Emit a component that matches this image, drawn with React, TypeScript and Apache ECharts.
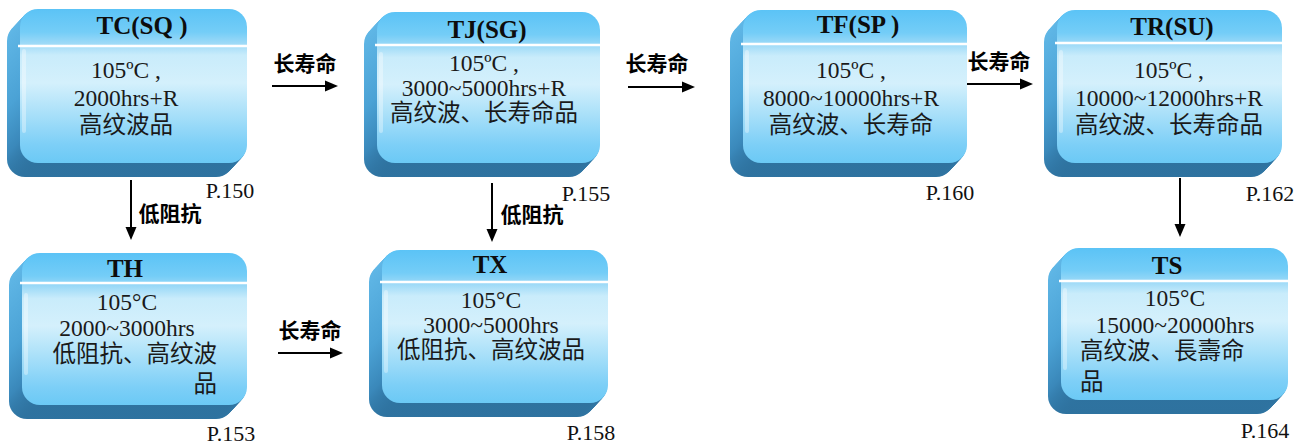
import React, { useEffect, useRef } from "react";
import * as echarts from "echarts";

// ---- content ----
const titles = ["TC(SQ )", "TJ(SG)", "TF(SP )", "TR(SU)", "TH", "TX", "TS"];
const specLines = [
  ["105ºC ,", "2000hrs+R", "高纹波品"],
  ["105ºC ,", "3000~5000hrs+R", "高纹波、长寿命品"],
  ["105ºC ,", "8000~10000hrs+R", "高纹波、长寿命"],
  ["105ºC ,", "10000~12000hrs+R", "高纹波、长寿命品"],
  ["105°C", "2000~3000hrs", "低阻抗、高纹波", "品"],
  ["105°C", "3000~5000hrs", "低阻抗、高纹波品"],
  ["105°C", "15000~20000hrs", "高纹波、長壽命", "品"],
];
const pages = ["P.150", "P.155", "P.160", "P.162", "P.153", "P.158", "P.164"];
const arrowLabels = ["长寿命", "长寿命", "长寿命", "长寿命", "低阻抗", "低阻抗", ""];

// ---- layout (positions / sizes only) ----
const boxLayout = [
  { x: 20, y: 9, w: 227, h: 154, tx: 142, ty: 25, ly: 46, cx: 126, cy: 70, lh: 27.5 },
  { x: 377, y: 12, w: 223, h: 151, tx: 487, ty: 29, ly: 45, cx: 484, cy: 63, lh: 25 },
  { x: 743, y: 10, w: 224, h: 153, tx: 858, ty: 24, ly: 44, cx: 851, cy: 70, lh: 27.5 },
  { x: 1057, y: 10, w: 225, h: 153, tx: 1172, ty: 26, ly: 43, cx: 1169, cy: 70, lh: 27.5 },
  { x: 22, y: 253, w: 225, h: 152, tx: 125, ty: 268, ly: 283, cx: 127, cy: 302, lh: 26, tailFrom: 2, tailAlign: "right", tailX: 217 },
  { x: 382, y: 250, w: 226, h: 153, tx: 490, ty: 264, ly: 282, cx: 491, cy: 300, lh: 25 },
  { x: 1061, y: 248, w: 227, h: 152, tx: 1167, ty: 265, ly: 281, cx: 1175, cy: 298, lh: 26.5, tailFrom: 2, tailAlign: "left", tailX: 1080 },
];
const pageLayout = [
  [230, 190], [586, 193], [950, 192], [1270, 193], [231, 433], [591, 432], [1265, 430],
];
const arrowLayout = [
  { dir: "h", x1: 272, y1: 86, x2: 338, y2: 86, lx: 305, ly: 62 },
  { dir: "h", x1: 628, y1: 87, x2: 695, y2: 87, lx: 657, ly: 62 },
  { dir: "h", x1: 967, y1: 84, x2: 1033, y2: 84, lx: 999, ly: 60 },
  { dir: "h", x1: 278, y1: 353, x2: 343, y2: 353, lx: 310, ly: 329 },
  { dir: "v", x1: 131, y1: 180, x2: 131, y2: 240, lx: 170, ly: 212 },
  { dir: "v", x1: 492, y1: 183, x2: 492, y2: 242, lx: 532, ly: 213 },
  { dir: "v", x1: 1180, y1: 178, x2: 1180, y2: 237, lx: 0, ly: 0 },
];

const SERIF = '"Liberation Serif", "Times New Roman", "Noto Sans CJK SC", serif';
const CJK = '"Noto Sans CJK SC", sans-serif';

function lin(stops: [number, string][]) {
  return {
    type: "linear",
    x: 0,
    y: 0,
    x2: 0,
    y2: 1,
    colorStops: stops.map(([offset, color]) => ({ offset, color })),
  };
}

function buildElements() {
  const els: any[] = [];
  const DX = -13;
  const DY = 14;
  const STEPS = 16;
  boxLayout.forEach((b, i) => {
    // extrusion
    for (let s = STEPS; s >= 1; s--) {
      const t = s / STEPS;
      els.push({
        type: "rect",
        shape: { x: b.x + DX * t, y: b.y + DY * t, width: b.w, height: b.h, r: 18 },
        style: {
          fill: lin([
            [0, "#62b9e8"],
            [0.55, "#4ba2d5"],
            [0.85, "#3a88ba"],
            [1, "#2e729f"],
          ]),
        },
        silent: true,
      });
    }
    // front face
    els.push({
      type: "rect",
      shape: { x: b.x, y: b.y, width: b.w, height: b.h, r: 18 },
      style: {
        fill: lin([
          [0, "#5bc3f6"],
          [0.15, "#74cdf7"],
          [0.22, "#9bd9f7"],
          [0.3, "#c9ecfb"],
          [0.48, "#d4f0fc"],
          [0.68, "#a9e0f9"],
          [0.88, "#7dcff7"],
          [1, "#6bc9f5"],
        ]),
      },
      silent: true,
    });
    // subtle left highlight
    els.push({
      type: "rect",
      shape: { x: b.x + 2, y: b.y + 40, width: 4, height: b.h - 70, r: 2 },
      style: { fill: "rgba(255,255,255,0.35)" },
      silent: true,
    });
    // white divider
    els.push({
      type: "line",
      shape: { x1: b.x - 2, y1: b.ly, x2: b.x + b.w + 1, y2: b.ly },
      style: { stroke: "#ffffff", lineWidth: 2.5 },
      silent: true,
    });
    // title
    els.push({
      type: "text",
      x: b.tx,
      y: b.ty,
      style: {
        text: titles[i],
        fontFamily: SERIF,
        fontSize: 25,
        fontWeight: "bold",
        fill: "#0d0d0d",
        align: "center",
        verticalAlign: "middle",
      },
    });
    // spec lines
    specLines[i].forEach((line, k) => {
      const isTail = b.tailFrom !== undefined && k >= b.tailFrom;
      els.push({
        type: "text",
        x: isTail ? b.tailX : b.cx,
        y: b.cy + k * b.lh + (isTail && k === 3 ? 4 : 0),
        style: {
          text: line,
          fontFamily: SERIF,
          fontSize: 23.5,
          fill: "#1a1a1a",
          align: isTail ? b.tailAlign : "center",
          verticalAlign: "middle",
        },
      });
    });
  });

  pages.forEach((p, i) => {
    els.push({
      type: "text",
      x: pageLayout[i][0],
      y: pageLayout[i][1],
      style: {
        text: p,
        fontFamily: SERIF,
        fontSize: 22,
        fill: "#111111",
        align: "center",
        verticalAlign: "middle",
      },
    });
  });

  arrowLayout.forEach((a, i) => {
    const HL = 13;
    const HW = 5.5;
    if (a.dir === "h") {
      els.push({
        type: "line",
        shape: { x1: a.x1, y1: a.y1, x2: a.x2 - HL + 1, y2: a.y2 },
        style: { stroke: "#000", lineWidth: 2 },
      });
      els.push({
        type: "polygon",
        shape: { points: [[a.x2, a.y2], [a.x2 - HL, a.y2 - HW], [a.x2 - HL, a.y2 + HW]] },
        style: { fill: "#000" },
      });
    } else {
      els.push({
        type: "line",
        shape: { x1: a.x1, y1: a.y1, x2: a.x2, y2: a.y2 - HL + 1 },
        style: { stroke: "#000", lineWidth: 2 },
      });
      els.push({
        type: "polygon",
        shape: { points: [[a.x2, a.y2], [a.x2 - HW, a.y2 - HL], [a.x2 + HW, a.y2 - HL]] },
        style: { fill: "#000" },
      });
    }
    if (arrowLabels[i]) {
      els.push({
        type: "text",
        x: a.lx,
        y: a.ly,
        style: {
          text: arrowLabels[i],
          fontFamily: CJK,
          fontSize: 21,
          fontWeight: "bold",
          fill: "#000",
          align: "center",
          verticalAlign: "middle",
        },
      });
    }
  });
  return els;
}

export default function App() {
  const ref = useRef<HTMLDivElement>(null);
  useEffect(() => {
    document.body.style.margin = "0";
    const chart = echarts.init(ref.current!, undefined, { renderer: "svg" });
    chart.setOption({
      animation: false,
      backgroundColor: "#ffffff",
      graphic: { elements: buildElements() },
    });
    return () => chart.dispose();
  }, []);
  return <div ref={ref} style={{ width: 1311, height: 446 }} />;
}
